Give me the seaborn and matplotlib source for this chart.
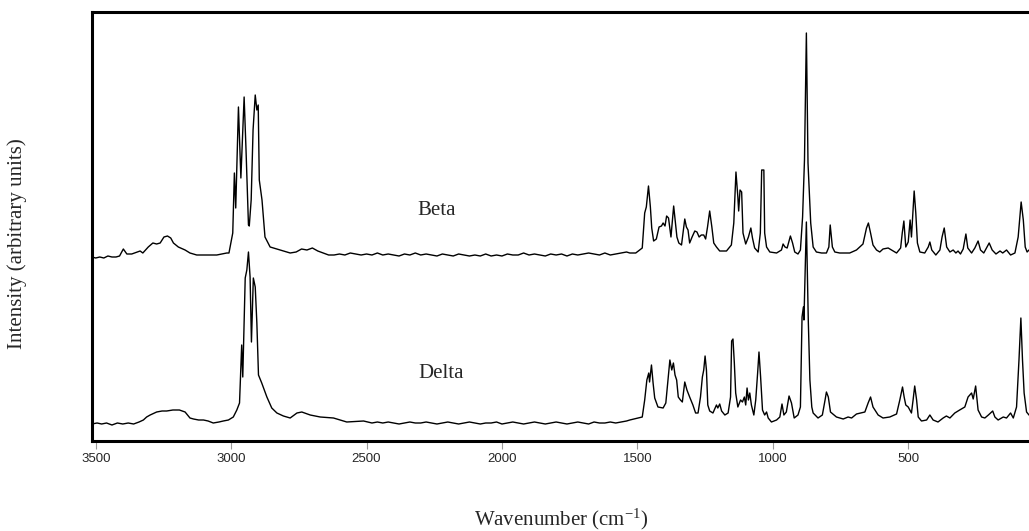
import matplotlib
matplotlib.use("Agg")
import matplotlib.pyplot as plt
import seaborn as sns
import pandas as pd

# ---------------- data ----------------
beta_wn = [3514, 3500, 3485, 3470, 3455, 3440, 3425, 3412, 3398, 3385, 3367, 3336, 3326, 3306, 3289,
           3275, 3262, 3248, 3235, 3223, 3213, 3195, 3170, 3152, 3127, 3090, 3053, 3016, 3008, 3004,
           2994, 2988, 2983, 2973, 2964, 2952, 2945, 2936, 2933, 2926, 2919, 2911, 2905, 2900, 2896,
           2886, 2875, 2856, 2819, 2782, 2760, 2740, 2720, 2700, 2680, 2660, 2640, 2620, 2600, 2580,
           2560, 2540, 2520, 2500, 2480, 2460, 2440, 2420, 2400, 2380, 2360, 2340, 2320, 2300, 2280,
           2260, 2240, 2220, 2200, 2180, 2160, 2140, 2120, 2100, 2080, 2060, 2040, 2020, 2000, 1980,
           1960, 1940, 1920, 1900, 1880, 1860, 1840, 1820, 1800, 1780, 1760, 1740, 1720, 1700, 1680,
           1660, 1640, 1620, 1600, 1580, 1560, 1540, 1528, 1506, 1482, 1473, 1467, 1459, 1452, 1447,
           1440, 1430, 1420, 1411, 1405, 1398, 1392, 1385, 1376, 1366, 1360, 1354, 1347, 1337, 1325,
           1319, 1313, 1307, 1298, 1288, 1280, 1272, 1264, 1255, 1248, 1241, 1233, 1225, 1218, 1208,
           1196, 1171, 1153, 1144, 1136, 1129, 1126, 1121, 1115, 1110, 1100, 1090, 1081, 1075, 1067,
           1054, 1046, 1041, 1033, 1030, 1023, 1011, 986, 968, 962, 955, 947, 935, 927, 919,
           907, 898, 890, 883, 876, 870, 860, 851, 839, 820, 802, 793, 788, 780, 771,
           753, 716, 691, 667, 654, 647, 639, 630, 617, 605, 593, 574, 562, 543, 528,
           522, 516, 509, 500, 493, 488, 478, 472, 466, 457, 439, 426, 420, 413, 398,
           383, 375, 367, 358, 346, 334, 324, 316, 307, 297, 287, 280, 266, 254, 242,
           233, 221, 211, 201, 190, 176, 161, 151, 137, 122, 106, 94, 83, 75, 68,
           61, 54, 46]
beta_int = [184, 183, 184, 183, 185, 184, 184, 185, 192, 187, 187, 190, 188, 194, 198,
            197, 198, 204, 205, 203, 198, 194, 191, 188, 186, 186, 186, 188, 188, 194,
            208, 268, 233, 334, 263, 344, 291, 216, 215, 241, 311, 346, 331, 336, 261,
            241, 204, 194, 191, 188, 189, 192, 191, 193, 190, 188, 186, 186, 187, 186,
            188, 187, 186, 187, 186, 188, 186, 187, 186, 185, 187, 186, 188, 186, 187,
            186, 185, 187, 186, 185, 187, 186, 185, 186, 185, 187, 185, 186, 185, 187,
            186, 186, 188, 186, 187, 186, 185, 187, 186, 187, 185, 187, 186, 187, 188,
            187, 186, 188, 186, 187, 188, 189, 188, 188, 193, 228, 234, 255, 234, 213,
            200, 202, 214, 215, 218, 215, 225, 223, 204, 235, 219, 204, 198, 196, 222,
            214, 211, 198, 204, 210, 209, 204, 206, 206, 202, 214, 230, 214, 198, 194,
            190, 190, 196, 218, 269, 244, 230, 251, 249, 208, 197, 204, 213, 203, 193,
            189, 208, 271, 271, 208, 194, 189, 188, 191, 197, 194, 193, 205, 198, 189,
            187, 191, 224, 281, 408, 278, 218, 194, 189, 188, 188, 194, 216, 194, 189,
            188, 188, 191, 197, 213, 218, 208, 196, 191, 189, 192, 193, 191, 188, 193,
            208, 220, 194, 199, 221, 204, 250, 228, 198, 189, 188, 194, 199, 191, 186,
            191, 204, 213, 194, 189, 191, 188, 190, 187, 192, 207, 193, 188, 193, 200,
            191, 188, 193, 198, 191, 187, 190, 188, 191, 186, 188, 204, 239, 221, 194,
            189, 191, 190]

delta_wn = [3514, 3495, 3478, 3460, 3440, 3420, 3400, 3380, 3360, 3340, 3324, 3312, 3299, 3275, 3255,
            3238, 3215, 3191, 3170, 3152, 3139, 3120, 3102, 3085, 3066, 3045, 3029, 3010, 2992, 2979,
            2969, 2964, 2961, 2957, 2948, 2942, 2936, 2930, 2925, 2918, 2911, 2905, 2899, 2887, 2868,
            2850, 2831, 2807, 2782, 2757, 2739, 2708, 2671, 2622, 2573, 2511, 2480, 2460, 2440, 2420,
            2400, 2380, 2360, 2340, 2320, 2300, 2280, 2260, 2240, 2220, 2200, 2180, 2160, 2140, 2120,
            2100, 2080, 2060, 2040, 2020, 2000, 1980, 1960, 1940, 1920, 1900, 1880, 1860, 1840, 1820,
            1800, 1780, 1760, 1740, 1720, 1700, 1680, 1660, 1640, 1620, 1600, 1580, 1560, 1540, 1528,
            1482, 1473, 1465, 1458, 1455, 1448, 1442, 1436, 1424, 1405, 1395, 1387, 1380, 1373, 1367,
            1361, 1355, 1349, 1341, 1334, 1325, 1317, 1307, 1295, 1285, 1276, 1267, 1260, 1255, 1250,
            1245, 1240, 1233, 1221, 1213, 1208, 1203, 1196, 1189, 1177, 1165, 1156, 1152, 1147, 1142,
            1137, 1129, 1119, 1112, 1105, 1100, 1095, 1090, 1085, 1079, 1070, 1063, 1056, 1051, 1045,
            1038, 1030, 1023, 1017, 1005, 986, 974, 966, 959, 950, 940, 931, 921, 907, 898,
            892, 887, 885, 876, 869, 863, 856, 851, 833, 817, 807, 802, 795, 787, 765,
            740, 722, 709, 691, 660, 648, 639, 630, 611, 593, 568, 543, 531, 521, 515,
            509, 500, 488, 482, 476, 469, 463, 451, 432, 420, 408, 390, 371, 359, 346,
            328, 310, 291, 279, 266, 260, 251, 242, 229, 217, 204, 188, 180, 168, 149,
            137, 122, 112, 100, 91, 84, 78, 72, 63, 54, 46]
delta_int = [17, 18, 17, 18, 16, 18, 17, 18, 17, 19, 21, 24, 26, 29, 30,
             30, 31, 31, 29, 23, 22, 21, 21, 20, 18, 19, 20, 21, 24, 31,
             38, 74, 96, 64, 163, 171, 189, 164, 99, 163, 154, 118, 66, 58, 44,
             33, 28, 25, 23, 28, 29, 26, 24, 23, 19, 20, 18, 19, 18, 19,
             18, 17, 18, 19, 18, 18, 19, 18, 17, 18, 19, 18, 17, 18, 19,
             18, 17, 18, 18, 19, 17, 18, 19, 18, 17, 18, 19, 18, 17, 18,
             19, 18, 17, 18, 19, 18, 17, 19, 18, 18, 19, 18, 19, 20, 21,
             24, 41, 61, 68, 59, 76, 58, 43, 34, 33, 38, 61, 81, 71, 78,
             66, 61, 44, 41, 39, 59, 51, 44, 36, 28, 28, 44, 64, 71, 85,
             71, 36, 30, 28, 33, 36, 33, 37, 30, 26, 28, 44, 100, 102, 78,
             48, 34, 41, 39, 44, 36, 53, 41, 48, 36, 26, 41, 68, 89, 64,
             31, 26, 29, 23, 19, 21, 24, 37, 26, 29, 45, 38, 23, 26, 34,
             124, 134, 121, 219, 121, 61, 34, 28, 23, 26, 41, 49, 44, 29, 24,
             22, 24, 23, 27, 29, 38, 44, 34, 26, 23, 24, 27, 41, 54, 44,
             36, 34, 28, 41, 55, 41, 24, 20, 21, 26, 21, 19, 23, 25, 23,
             28, 31, 34, 44, 48, 42, 55, 31, 24, 23, 26, 30, 24, 21, 24,
             23, 28, 23, 34, 81, 123, 81, 48, 29, 26, 25]

sample_names = ["Beta", "Delta"]
x_ticks = [3500, 3000, 2500, 2000, 1500, 1000, 500]
x_label = "Wavenumber (cm$^{\\mathregular{-1}}$)"
y_label = "Intensity (arbitrary units)"

df = pd.concat([
    pd.DataFrame({"wavenumber": beta_wn, "intensity": beta_int, "sample": sample_names[0]}),
    pd.DataFrame({"wavenumber": delta_wn, "intensity": delta_int, "sample": sample_names[1]}),
], ignore_index=True)

# ---------------- styling ----------------
sns.set_theme(style="white")
plt.rcParams["font.family"] = ["Liberation Serif", "DejaVu Serif"]
plt.rcParams["mathtext.fontset"] = "custom"
plt.rcParams["mathtext.rm"] = "Liberation Serif"
plt.rcParams["mathtext.it"] = "Liberation Serif:italic"

W, H = 1029, 531
fig = plt.figure(figsize=(W / 100, H / 100), dpi=100)
ax = fig.add_axes([92 / W, 1 - 441 / H, 1 - 92 / W, (441 - 11.7) / H])

sns.lineplot(data=df, x="wavenumber", y="intensity", hue="sample", units="sample",
             estimator=None, palette={"Beta": "black", "Delta": "black"},
             linewidth=1.0, legend=False, ax=ax)

ax.set_xlim(3513.7, 54)
ax.set_ylim(0, 429.3)
ax.set_xticks(x_ticks)
ax.set_xticklabels([str(t) for t in x_ticks], family="Liberation Sans", fontsize=9.5)
ax.set_yticks([])
ax.tick_params(axis="x", direction="out", length=6, width=0.8, color="#999999", pad=3,
               bottom=True)
ax.set_xlabel("")
ax.set_ylabel("")

for side in ["top", "left", "bottom"]:
    ax.spines[side].set_visible(True)
    ax.spines[side].set_color("black")
    ax.spines[side].set_linewidth(2.2)
ax.spines["right"].set_visible(False)

ax.text(437 / W, 1 - 211 / H, "Beta", transform=fig.transFigure, fontsize=15,
        ha="center", va="center")
ax.text(441 / W, 1 - 374 / H, "Delta", transform=fig.transFigure, fontsize=15,
        ha="center", va="center")

fig.text(561 / W, 1 - 519 / H, x_label, fontsize=15, ha="center", va="center")
fig.text(17 / W, 1 - 244 / H, y_label, fontsize=15, ha="center", va="center", rotation=90)

fig.savefig("out.png", dpi=100)
